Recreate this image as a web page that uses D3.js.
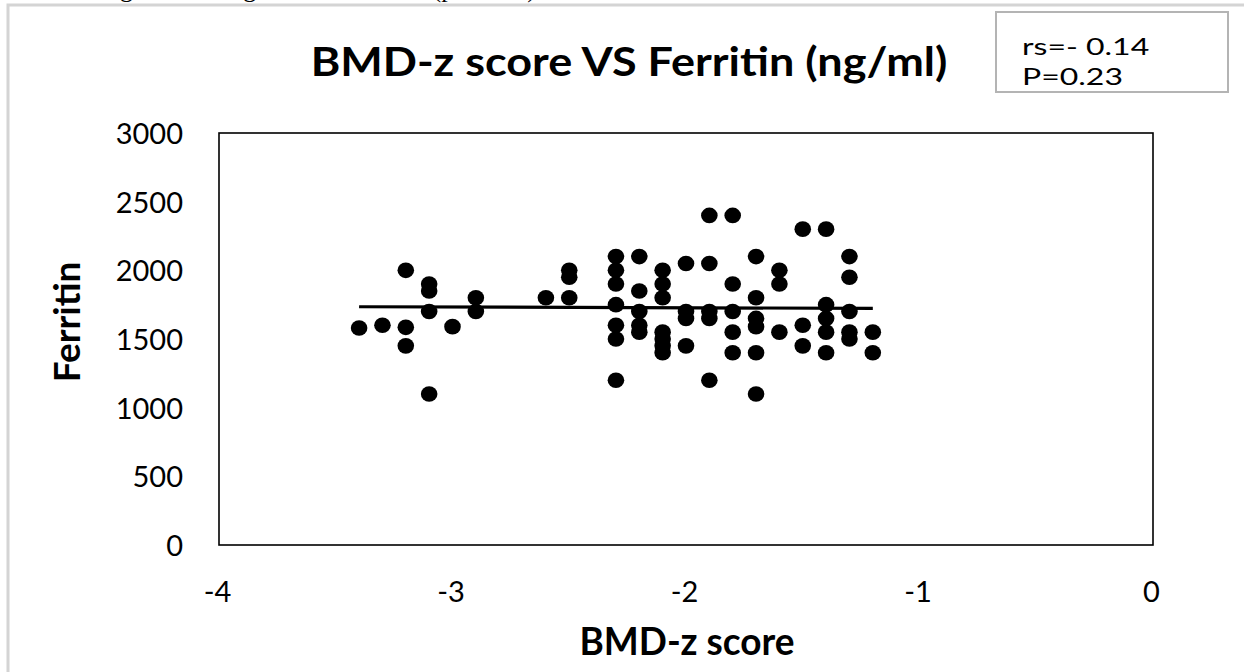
<!DOCTYPE html>
<html>
<head>
<meta charset="utf-8">
<script src="https://cdn.jsdelivr.net/npm/d3@7"></script>
<style>
  html, body { margin: 0; padding: 0; background: #fff; }
  svg { display: block; }
  text { font-family: Lato, "Open Sans", sans-serif; fill: #000; }
</style>
</head>
<body>
<svg id="chart" width="1244" height="672"></svg>
<script>
// BMD z-score (x) against serum ferritin in ng/ml (y)
const bmdZ = [
  -3.4, -3.3, -3.2, -3.2, -3.2,
  -3.1, -3.1, -3.1, -3.1, -3.0,
  -2.9, -2.9, -2.6, -2.5, -2.5, -2.5,
  -2.3, -2.3, -2.3, -2.3, -2.3, -2.3, -2.3,
  -2.2, -2.2, -2.2, -2.2, -2.2,
  -2.1, -2.1, -2.1, -2.1, -2.1, -2.1, -2.1,
  -2.0, -2.0, -2.0, -2.0,
  -1.9, -1.9, -1.9, -1.9, -1.9,
  -1.8, -1.8, -1.8, -1.8, -1.8,
  -1.7, -1.7, -1.7, -1.7, -1.7, -1.7,
  -1.6, -1.6, -1.6,
  -1.5, -1.5, -1.5,
  -1.4, -1.4, -1.4, -1.4, -1.4,
  -1.3, -1.3, -1.3, -1.3, -1.3,
  -1.2, -1.2
];
const ferritin = [
  1580, 1600, 2000, 1585, 1450,
  1900, 1850, 1700, 1100, 1590,
  1800, 1700, 1800, 2000, 1950, 1800,
  2100, 2000, 1900, 1750, 1600, 1500, 1200,
  2100, 1850, 1700, 1600, 1550,
  2000, 1900, 1800, 1550, 1500, 1450, 1400,
  2050, 1700, 1650, 1450,
  2400, 2050, 1700, 1650, 1200,
  2400, 1900, 1700, 1550, 1400,
  2100, 1800, 1650, 1590, 1400, 1100,
  2000, 1900, 1550,
  2300, 1600, 1450,
  2300, 1750, 1650, 1550, 1400,
  2100, 1950, 1700, 1550, 1500,
  1550, 1400
];

// Fitted trend line: ferritin at the lowest and highest z-score
const trendX = [-3.4, -1.2];
const trendY = [1735, 1723];

const xTicks = [-4, -3, -2, -1, 0];
const yTicks = [0, 500, 1000, 1500, 2000, 2500, 3000];

const titleText = "BMD-z score VS Ferritin (ng/ml)";
const xTitle = "BMD-z score";
const yTitle = "Ferritin";
const statLines = ["rs=- 0.14", "P=0.23"];
const captionText = "revealed a significant negative correlation (p=0.001).";

const svg = d3.select("#chart");
const plot = { left: 219, right: 1153, top: 133, bottom: 545 };

const x = d3.scaleLinear().domain([-4, 0]).range([plot.left, plot.right]);
const y = d3.scaleLinear().domain([0, 3000]).range([plot.bottom, plot.top]);

// plain hyphen-minus for negative tick values
const tickFmt = d => String(d);

// Text helper with independent horizontal / vertical glyph scaling
function label(g, str, px, py, opts) {
  const t = g.append("text")
    .attr("transform", `translate(${px},${py})` + (opts.rotate ? ` rotate(${opts.rotate})` : "") + ` scale(${opts.sx || 1},${opts.sy || 1})`)
    .attr("text-anchor", opts.anchor || "middle")
    .style("font-size", opts.size + "px")
    .style("font-weight", opts.weight || 400)
    .text(str);
  if (opts.family) t.style("font-family", opts.family);
  return t;
}

// caption line of the surrounding page, mostly cut off at the top
label(svg, captionText, -10, -3, { size: 26, anchor: "start", family: "'Liberation Serif', serif" });

// outer chart frame
svg.append("path")
  .attr("d", "M8,672 V5 H1244")
  .attr("fill", "none")
  .attr("stroke", "#d4d4d4")
  .attr("stroke-width", 3);

// plot area border
svg.append("rect")
  .attr("x", plot.left).attr("y", plot.top)
  .attr("width", plot.right - plot.left).attr("height", plot.bottom - plot.top)
  .attr("fill", "none").attr("stroke", "#000").attr("stroke-width", 1.6);

// y tick labels
const yAxis = d3.axisLeft(y).tickValues(yTicks).tickSize(0).tickFormat(tickFmt);
const gy = svg.append("g").attr("transform", `translate(${plot.left},0)`).call(yAxis);
gy.select(".domain").remove();
gy.selectAll(".tick text").each(function() {
  d3.select(this).attr("x", -36).attr("dy", "0.36em").attr("text-anchor", "end")
   .style("font-size", "29px").style("font-family", "Lato, sans-serif");
});

// x tick labels
const xAxis = d3.axisBottom(x).tickValues(xTicks).tickSize(0).tickFormat(tickFmt);
const gx = svg.append("g").attr("transform", `translate(0,${plot.bottom})`).call(xAxis);
gx.select(".domain").remove();
gx.selectAll(".tick text").each(function() {
  d3.select(this).attr("y", 57).attr("dy", null).attr("x", -2)
    .style("font-size", "29px").style("font-family", "Lato, sans-serif");
});

// data points
svg.append("g").selectAll("ellipse")
  .data(d3.zip(bmdZ, ferritin))
  .join("ellipse")
  .attr("cx", d => x(d[0]))
  .attr("cy", d => y(d[1]))
  .attr("rx", 8.3).attr("ry", 7.8)
  .attr("fill", "#000");

// trend line
svg.append("path")
  .datum(d3.zip(trendX, trendY))
  .attr("d", d3.line().x(d => x(d[0])).y(d => y(d[1])))
  .attr("fill", "none").attr("stroke", "#000").attr("stroke-width", 3.2);

// titles
label(svg, titleText, 629, 76, { size: 45, weight: 700, sy: 0.88 });
label(svg, xTitle, 687, 655, { size: 37, weight: 700, sy: 1.05 });
label(svg, yTitle, 80, 322, { size: 37, weight: 700, rotate: -90 });

// statistics box
svg.append("rect")
  .attr("x", 996).attr("y", 12).attr("width", 232).attr("height", 80)
  .attr("fill", "#fff").attr("stroke", "#b4b4b4").attr("stroke-width", 2);
statLines.forEach((s, i) => {
  label(svg, s, 1022, 55 + i * 30, { size: 32, anchor: "start", sy: 0.75 });
});
</script>
</body>
</html>
